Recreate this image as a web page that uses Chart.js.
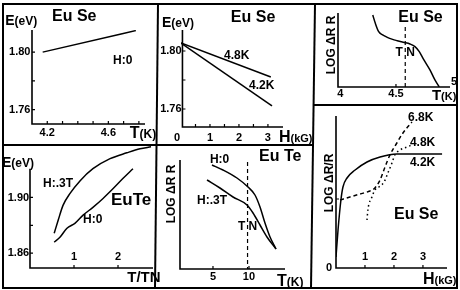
<!DOCTYPE html>
<html lang="en">
<head>
<meta charset="UTF-8">
<title>EuSe / EuTe panels</title>
<script src="https://cdn.jsdelivr.net/npm/chart.js"></script>
<style>
  body { margin: 0; background: #fff; }
  #fig { position: relative; width: 460px; height: 290px; overflow: hidden; }
  #fig canvas, #fig svg { position: absolute; left: 0; top: 0; }
</style>
</head>
<body>
<div id="fig">
  <svg width="460" height="290">
    <g stroke="#000" stroke-width="2" fill="none">
      <rect x="3" y="4" width="454" height="284"/>
      <line x1="158" y1="4" x2="155" y2="288"/>
      <line x1="315" y1="4" x2="311" y2="288"/>
      <line x1="3" y1="145" x2="313" y2="145"/>
      <line x1="314" y1="105" x2="457" y2="105"/>
    </g>
  </svg>
  <canvas id="p1" width="460" height="290"></canvas>
  <canvas id="p2" width="460" height="290"></canvas>
  <canvas id="p3" width="460" height="290"></canvas>
  <canvas id="p4" width="460" height="290"></canvas>
  <canvas id="p5" width="460" height="290"></canvas>
  <canvas id="p6" width="460" height="290"></canvas>
</div>
<script>
// panel 1: EuSe, E vs T at H=0
const p1T = [4.17, 4.78];
const p1E = [1.800, 1.815];
const p1Ticks = ['4.2', '4.6'];

// panel 2: EuSe, E vs H
const p2H = [0, 3.10];
const p2E48 = [1.8055, 1.7821];
const p2H42 = [0, 3.14];
const p2E42 = [1.8055, 1.7621];

// panel 3: EuSe, log dR/R vs T
const p3T = [4.30, 4.322, 4.351, 4.385, 4.425, 4.471, 4.511, 4.563, 4.621, 4.664, 4.701, 4.741, 4.793, 4.836, 4.873];
const p3R = [9.73, 8.6, 7.47, 7.03, 6.71, 6.44, 6.26, 6.04, 5.81, 5.45, 4.77, 3.65, 2.3, 0.95, 0];
const p3TN = 4.58;

// panel 4: EuTe, E vs T/TN
const p4X3T = [0.55, 0.64, 0.75, 0.91, 1.14, 1.43, 1.82, 2.20, 2.50, 2.75];
const p4E3T = [1.8743, 1.8836, 1.8943, 1.9029, 1.9121, 1.9207, 1.9279, 1.9321, 1.9350, 1.9364];
const p4X0 = [0.55, 0.68, 0.84, 1.02, 1.20, 1.43, 1.66, 1.89, 2.11, 2.34];
const p4E0 = [1.8679, 1.8714, 1.8779, 1.8814, 1.8871, 1.8929, 1.8993, 1.9064, 1.9136, 1.9207];

// panel 5: EuTe, log dR/R vs T
const p5T0 = [4.86, 6.39, 8.33, 9.86, 10.83, 11.53, 12.22, 12.92, 13.75];
const p5R0 = [10.4, 9.9, 9.1, 8.2, 7.4, 6.2, 4.6, 3.2, 2.0];
const p5T3 = [4.17, 5.97, 7.78, 9.72, 10.56, 11.53, 12.50, 13.75];
const p5R3 = [8.9, 8.1, 7.2, 6.4, 5.6, 4.4, 3.2, 2.0];
const p5TN = 9.8;

// panel 6: EuSe, log dR/R vs H
const p6H42 = [0, 0.07, 0.17, 0.24, 0.38, 0.66, 1.07, 1.52, 2.10, 2.55, 3.66];
const p6R42 = [1.1, 3.8, 6.8, 8.1, 9.0, 9.8, 10.6, 11.1, 11.4, 11.4, 11.4];
const p6H68 = [0.14, 0.48, 0.83, 1.17, 1.34, 1.52, 1.69, 1.86, 2.10, 2.31, 2.62];
const p6R68 = [6.8, 7.1, 7.4, 7.7, 8.0, 8.8, 10.1, 11.3, 12.5, 13.5, 14.6];
const p6H48 = [1.07, 1.10, 1.24, 1.34, 1.48, 1.66, 1.79, 1.93, 2.03, 2.21, 2.45, 2.62];
const p6R48 = [4.8, 5.8, 7.1, 7.8, 8.1, 8.6, 9.5, 10.5, 11.3, 11.8, 12.1, 12.3];

const FONT = '"Liberation Sans", Arial, sans-serif';
const f = (s) => 'bold ' + s + 'px ' + FONT;

const pts = (xs, ys) => xs.map((x, i) => ({ x: x, y: ys[i] }));

function line(xs, ys, dash) {
  return {
    data: pts(xs, ys),
    showLine: true,
    borderColor: '#000',
    borderWidth: 1.5,
    borderDash: dash || [],
    pointRadius: 0,
    cubicInterpolationMode: 'monotone',
    fill: false
  };
}

// axes, ticks and all the lettering, drawn through the chart's own scales
const paperAxes = {
  id: 'paperAxes',
  afterDatasetsDraw(chart, args, o) {
    const ctx = chart.ctx, sx = chart.scales.x, sy = chart.scales.y;
    const X = v => sx.getPixelForValue(v), Y = v => sy.getPixelForValue(v);
    ctx.save();
    ctx.strokeStyle = '#000';
    ctx.fillStyle = '#000';
    ctx.lineWidth = 1.6;
    ctx.beginPath();
    ctx.moveTo(X(o.x0), Y(o.yTop));
    ctx.lineTo(X(o.x0), Y(o.y0));
    ctx.lineTo(X(o.xEnd), Y(o.y0));
    ctx.stroke();
    ctx.lineWidth = 1.2;
    ctx.beginPath();
    (o.xTicks || []).forEach(v => { ctx.moveTo(X(v), Y(o.y0)); ctx.lineTo(X(v), Y(o.y0) - 3); });
    (o.yTicks || []).forEach(v => { ctx.moveTo(X(o.x0), Y(v)); ctx.lineTo(X(o.x0) + 3, Y(v)); });
    ctx.stroke();
    (o.vlines || []).forEach(l => {
      ctx.save();
      ctx.setLineDash([4, 3]);
      ctx.lineWidth = 1.2;
      ctx.beginPath();
      ctx.moveTo(X(l.x), Y(l.from));
      ctx.lineTo(X(l.x), Y(l.to));
      ctx.stroke();
      ctx.restore();
    });
    ctx.textBaseline = 'middle';
    (o.texts || []).forEach(t => {
      ctx.save();
      ctx.font = f(t.size || 11);
      ctx.textAlign = t.align || 'left';
      ctx.translate(X(t.x), Y(t.y));
      if (t.rot) ctx.rotate(t.rot);
      ctx.fillText(t.s, 0, 0);
      if (t.unit) {
        // smaller unit in brackets right after the symbol
        const w = ctx.measureText(t.s).width;
        ctx.font = f(t.unitSize || 11);
        ctx.fillText(t.unit, w, 1);
      }
      ctx.restore();
    });
    ctx.restore();
  }
};

function panel(id, area, xr, yr, datasets, axes) {
  return new Chart(document.getElementById(id), {
    type: 'scatter',
    data: { datasets: datasets },
    options: {
      responsive: false,
      animation: false,
      events: [],
      layout: { padding: { left: area[0], right: 460 - area[1], top: area[2], bottom: 290 - area[3] } },
      scales: {
        x: { type: 'linear', display: false, min: xr[0], max: xr[1] },
        y: { type: 'linear', display: false, min: yr[0], max: yr[1] }
      },
      plugins: { legend: { display: false }, tooltip: { enabled: false }, paperAxes: axes }
    },
    plugins: [paperAxes]
  });
}

const UP = -Math.PI / 2;

// 1
panel('p1', [32, 145, 30, 124], [4.1, 4.84], [1.75, 1.8154],
  [line(p1T, p1E)],
  {
    x0: 4.1, xEnd: 4.84, y0: 1.75, yTop: 1.8154,
    xTicks: [4.2, 4.3, 4.4, 4.5, 4.6, 4.7, 4.8], yTicks: [1.76, 1.78, 1.80],
    texts: [
      { s: p1Ticks[0], x: 4.2, y: 1.7437, align: 'center', size: 11 },
      { s: p1Ticks[1], x: 4.6, y: 1.7437, align: 'center', size: 11 },
      { s: '1.80', x: 4.09, y: 1.80, align: 'right', size: 11 },
      { s: '1.76', x: 4.09, y: 1.76, align: 'right', size: 11 },
      { s: 'E', unit: '(eV)', x: 3.925, y: 1.8216, size: 14, unitSize: 12 },
      { s: 'Eu Se', x: 4.231, y: 1.8244, size: 16 },
      { s: 'H:0', x: 4.631, y: 1.7942, size: 12 },
      { s: 'T', unit: '(K)', x: 4.74, y: 1.7432, size: 16, unitSize: 12 }
    ]
  });

// 2
panel('p2', [181, 283, 30, 127], [0, 3.52], [1.7476, 1.8145],
  [line(p2H, p2E48), line(p2H42, p2E42)],
  {
    x0: 0.05, xEnd: 3.52, y0: 1.7476, yTop: 1.8145,
    xTicks: [0.5, 1, 1.5, 2, 2.5, 3], yTicks: [1.76, 1.78, 1.80],
    texts: [
      { s: '0', x: -0.14, y: 1.7402, align: 'center', size: 11 },
      { s: '1', x: 1, y: 1.7402, align: 'center', size: 11 },
      { s: '2', x: 2, y: 1.7402, align: 'center', size: 11 },
      { s: '3', x: 3, y: 1.7402, align: 'center', size: 11 },
      { s: '1.80', x: 0.02, y: 1.80, align: 'right', size: 11 },
      { s: '1.76', x: 0.02, y: 1.76, align: 'right', size: 11 },
      { s: 'E', unit: '(eV)', x: -0.655, y: 1.8193, size: 14, unitSize: 12 },
      { s: 'Eu Se', x: 1.72, y: 1.8228, size: 16 },
      { s: '4.8K', x: 1.483, y: 1.7966, size: 12 },
      { s: '4.2K', x: 2.345, y: 1.7759, size: 12 },
      { s: 'H', unit: '(kG)', x: 3.38, y: 1.7403, size: 16, unitSize: 11 }
    ]
  });

// 3
panel('p3', [338, 450, 13, 87], [4, 4.966], [0, 10],
  [line(p3T, p3R)],
  {
    x0: 4, xEnd: 4.966, y0: 0, yTop: 10,
    xTicks: [4.5],
    vlines: [{ x: p3TN, from: 8.1, to: 0 }],
    texts: [
      { s: '4', x: 4.02, y: -1.0, align: 'center', size: 11 },
      { s: '4.5', x: 4.5, y: -1.0, align: 'center', size: 11 },
      { s: '5', x: 5.0, y: 0.65, align: 'center', size: 11 },
      { s: 'LOG \u0394R R', x: 3.948, y: 5.68, align: 'center', size: 12, rot: UP },
      { s: 'Eu Se', x: 4.52, y: 9.32, size: 16 },
      { s: 'T N', x: p3TN, y: 4.59, align: 'center', size: 12 },
      { s: 'T', unit: '(K)', x: 4.81, y: -1.22, size: 15, unitSize: 11 }
    ]
  });

// 4
panel('p4', [30, 153, 146, 268], [0, 2.795], [1.8493, 1.937],
  [line(p4X3T, p4E3T), line(p4X0, p4E0)],
  {
    x0: 0, xEnd: 2.795, y0: 1.8493, yTop: 1.9207,
    xTicks: [1, 2], yTicks: [1.86, 1.88, 1.90],
    texts: [
      { s: '1', x: 1, y: 1.8574, align: 'center', size: 11 },
      { s: '2', x: 2, y: 1.8574, align: 'center', size: 11 },
      { s: '1.90', x: -0.02, y: 1.90, align: 'right', size: 11 },
      { s: '1.86', x: -0.02, y: 1.86, align: 'right', size: 11 },
      { s: 'E', unit: '(eV)', x: -0.636, y: 1.925, size: 14, unitSize: 12 },
      { s: 'H:.3T', x: 0.295, y: 1.910, size: 12 },
      { s: 'EuTe', x: 1.84, y: 1.8979, size: 17 },
      { s: 'H:0', x: 1.205, y: 1.8843, size: 12 },
      { s: 'T/TN', x: 2.21, y: 1.8421, size: 15 }
    ]
  });

// 5
panel('p5', [180, 285, 160, 269], [0.42, 15], [0, 10.9],
  [line(p5T0, p5R0), line(p5T3, p5R3)],
  {
    x0: 0.42, xEnd: 15, y0: 0, yTop: 10.9,
    xTicks: [5, 10],
    vlines: [{ x: p5TN, from: 10.7, to: 0 }],
    texts: [
      { s: '5', x: 5, y: -0.8, align: 'center', size: 11 },
      { s: '10', x: 10, y: -0.8, align: 'center', size: 11 },
      { s: 'LOG \u0394R R', x: -0.69, y: 7.5, align: 'center', size: 12, rot: UP },
      { s: 'H:0', x: 4.58, y: 10.9, size: 12 },
      { s: 'Eu Te', x: 11.4, y: 11.2, size: 16 },
      { s: 'H:.3T', x: 2.78, y: 6.8, size: 12 },
      { s: 'T N', x: p5TN, y: 4.2, align: 'center', size: 12 },
      { s: 'T', unit: '(K)', x: 13.9, y: -1.3, size: 16, unitSize: 12 }
    ]
  });

// 6
panel('p6', [336, 447, 116, 268], [0, 3.83], [0, 15.2],
  [line(p6H42, p6R42), line(p6H68, p6R68, [4, 3]), line(p6H48, p6R48, [1.5, 3])],
  {
    x0: 0, xEnd: 3.83, y0: 0, yTop: 15.2,
    xTicks: [1, 2, 3], yTicks: [6.9],
    texts: [
      { s: '0', x: -0.24, y: 0, align: 'center', size: 11 },
      { s: '1', x: 1, y: 1.1, align: 'center', size: 11 },
      { s: '2', x: 2, y: 1.1, align: 'center', size: 11 },
      { s: '3', x: 3, y: 1.1, align: 'center', size: 11 },
      { s: 'LOG \u0394R/R', x: -0.207, y: 8.5, align: 'center', size: 12, rot: UP },
      { s: '6.8K', x: 2.483, y: 15.0, size: 12 },
      { s: '4.8K', x: 2.55, y: 12.5, size: 12 },
      { s: '4.2K', x: 2.55, y: 10.5, size: 12 },
      { s: 'Eu Se', x: 2.0, y: 5.3, size: 16 },
      { s: 'H', unit: '(kG)', x: 3.0, y: -1.2, size: 16, unitSize: 11 }
    ]
  });
</script>
</body>
</html>
